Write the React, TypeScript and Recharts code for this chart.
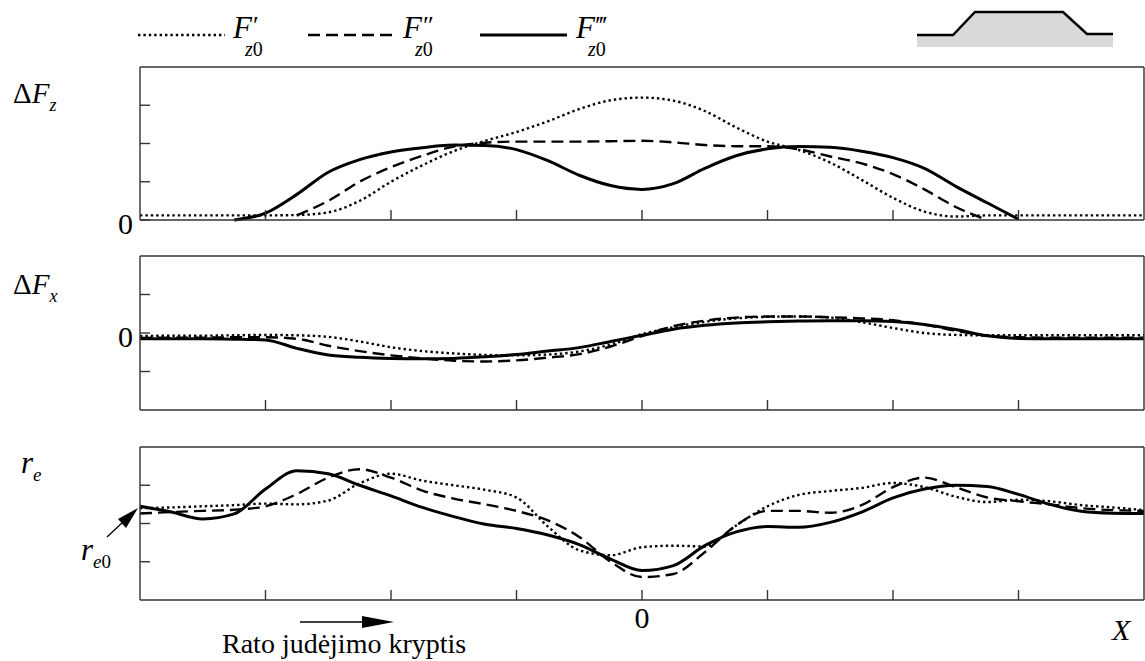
import React from 'react';
import { LineChart, Line, XAxis, YAxis } from 'recharts';

// shared x grid (wheel position), 0 = centre of the bump
const xPos = [-4, -3.75, -3.5, -3.25, -3, -2.75, -2.5, -2.25, -2, -1.75, -1.5, -1.25, -1, -0.75, -0.5, -0.25, 0, 0.25, 0.5, 0.75, 1, 1.25, 1.5, 1.75, 2, 2.25, 2.5, 2.75, 3, 3.25, 3.5, 3.75, 4];
const xTicks = [-3, -2, -1, 0, 1, 2, 3];

// ΔFz
const fzDotted = [0.12, 0.12, 0.12, 0.12, 0.12, 0.13, 0.2, 0.5, 1.0, 1.43, 1.8, 2.07, 2.3, 2.58, 2.9, 3.13, 3.2, 3.12, 2.85, 2.42, 2.05, 1.83, 1.5, 1.05, 0.58, 0.22, 0.09, 0.12, 0.12, 0.12, 0.12, 0.12, 0.12];
const fzDashed = [null, null, null, null, null, 0.12, 0.5, 1.0, 1.38, 1.68, 1.92, 2.02, 2.05, 2.05, 2.05, 2.06, 2.07, 2.03, 1.96, 1.93, 1.93, 1.85, 1.66, 1.48, 1.2, 0.8, 0.34, 0.0, null, null, null, null, null];
const fzSolid = [null, null, null, 0.0, 0.18, 0.67, 1.25, 1.58, 1.78, 1.89, 1.96, 1.95, 1.84, 1.55, 1.17, 0.9, 0.8, 0.95, 1.35, 1.68, 1.86, 1.92, 1.9, 1.8, 1.63, 1.35, 0.88, 0.45, 0.02, null, null, null, null];
const fzTicksLeft = [0, 1, 2, 3];
const fzTicksRight = [1, 2, 3];

// ΔFx
const fxDotted = [-0.08, -0.07, -0.07, -0.06, -0.05, -0.06, -0.1, -0.22, -0.37, -0.47, -0.53, -0.57, -0.58, -0.56, -0.48, -0.3, -0.03, 0.15, 0.29, 0.38, 0.42, 0.43, 0.4, 0.28, 0.13, 0.0, -0.05, -0.06, -0.06, -0.06, -0.06, -0.06, -0.06];
const fxDashed = [-0.13, -0.12, -0.12, -0.11, -0.11, -0.15, -0.33, -0.47, -0.58, -0.66, -0.72, -0.74, -0.71, -0.64, -0.55, -0.35, -0.08, 0.18, 0.32, 0.4, 0.43, 0.43, 0.41, 0.38, 0.33, 0.22, 0.06, -0.07, -0.11, -0.12, -0.12, -0.12, -0.12];
const fxSolid = [-0.15, -0.15, -0.15, -0.16, -0.18, -0.4, -0.57, -0.63, -0.66, -0.67, -0.66, -0.62, -0.56, -0.47, -0.38, -0.22, -0.06, 0.1, 0.2, 0.26, 0.29, 0.31, 0.32, 0.32, 0.3, 0.22, 0.09, -0.07, -0.14, -0.15, -0.15, -0.15, -0.15];
const fxTicks = [-1, 0, 1];

// r_e
const reDotted = [2.4, 2.42, 2.45, 2.48, 2.52, 2.5, 2.6, 3.05, 3.3, 3.12, 3.0, 2.88, 2.68, 1.92, 1.3, 1.17, 1.38, 1.42, 1.4, 1.95, 2.45, 2.75, 2.85, 2.93, 3.06, 2.95, 2.7, 2.56, 2.62, 2.58, 2.48, 2.42, 2.35];
const reDashed = [2.26, 2.3, 2.33, 2.36, 2.45, 2.77, 3.2, 3.42, 3.2, 2.86, 2.65, 2.5, 2.33, 2.08, 1.65, 1.0, 0.6, 0.68, 1.25, 1.95, 2.33, 2.33, 2.28, 2.48, 2.95, 3.2, 2.95, 2.68, 2.58, 2.5, 2.4, 2.35, 2.33];
const reSolid = [2.45, 2.3, 2.12, 2.25, 2.9, 3.38, 3.3, 3.0, 2.72, 2.42, 2.18, 1.98, 1.87, 1.7, 1.45, 1.07, 0.77, 0.9, 1.42, 1.78, 1.92, 1.9, 2.03, 2.3, 2.67, 2.9, 3.0, 2.97, 2.76, 2.5, 2.32, 2.27, 2.26];
const reTicks = [1, 2, 3];

const FONT = "'Liberation Serif', 'Times New Roman', serif";
const W = 1145;
const LEFT = 140;
const FRAME = '#333';
const INK = '#000';

const DOT = { strokeWidth: 2.4, strokeDasharray: '2.4 3' };
const DASH = { strokeWidth: 2.4, strokeDasharray: '12 6' };
const SOLID = { strokeWidth: 3 };

const axisLine = { stroke: FRAME, strokeWidth: 1.4 };
const tickLine = { stroke: FRAME, strokeWidth: 1.4 };

type PanelProps = {
  top: number;
  height: number;
  mTop: number;
  mBottom: number;
  domain: [number, number];
  leftTicks: number[];
  rightTicks: number[];
  dotted: (number | null)[];
  dashed: (number | null)[];
  solid: (number | null)[];
  zeroLabel?: boolean;
  xZeroLabel?: boolean;
};

function Panel(props: PanelProps) {
  const { top, height, mTop, mBottom, domain, leftTicks, rightTicks, dotted, dashed, solid, zeroLabel, xZeroLabel } = props;
  const rows = xPos.map((x, i) => ({ x, dotted: dotted[i], dashed: dashed[i], solid: solid[i] }));
  const plotBottom = height - mBottom;

  const leftTick = (p: any) =>
    zeroLabel && p.payload.value === 0 ? (
      <text x={LEFT - 7} y={p.y} dy="0.45em" textAnchor="end" fontSize={30} fontFamily={FONT} fill={INK}>0</text>
    ) : (
      <g />
    );
  const bottomTick = (p: any) =>
    xZeroLabel && p.payload.value === 0 ? (
      <text x={p.x} y={plotBottom + 28} textAnchor="middle" fontSize={30} fontFamily={FONT} fill={INK}>0</text>
    ) : (
      <g />
    );

  return (
    <div style={{ position: 'absolute', left: 0, top }}>
      <LineChart width={W} height={height} data={rows} margin={{ top: mTop, right: 1, bottom: mBottom, left: LEFT }}>
        <XAxis dataKey="x" type="number" domain={[-4, 4]} ticks={xTicks} interval={0} mirror tickSize={10} axisLine={axisLine} tickLine={tickLine} tick={bottomTick} />
        <XAxis xAxisId="top" orientation="top" dataKey="x" type="number" domain={[-4, 4]} ticks={xTicks} interval={0} mirror tickSize={10} axisLine={axisLine} tickLine={tickLine} tick={false} />
        <YAxis type="number" domain={domain} ticks={leftTicks} interval={0} mirror tickSize={10} axisLine={axisLine} tickLine={tickLine} tick={leftTick} />
        <YAxis yAxisId="right" orientation="right" type="number" domain={domain} ticks={rightTicks} interval={0} mirror tickSize={10} axisLine={axisLine} tickLine={tickLine} tick={false} />
        <Line type="monotone" dataKey="dotted" stroke={INK} {...DOT} dot={false} activeDot={false} isAnimationActive={false} />
        <Line type="monotone" dataKey="dashed" stroke={INK} {...DASH} dot={false} activeDot={false} isAnimationActive={false} />
        <Line type="monotone" dataKey="solid" stroke={INK} {...SOLID} dot={false} activeDot={false} isAnimationActive={false} />
      </LineChart>
    </div>
  );
}

function LegendLabel({ x, primes }: { x: number; primes: string }) {
  return (
    <g fontFamily={FONT} fill={INK}>
      <text x={x} y={38} fontSize={31}>
        <tspan fontStyle="italic">F</tspan>
        <tspan fontSize={26} dx={1} dy={-4}>{primes}</tspan>
      </text>
      <text x={x + 12} y={56} fontSize={20}>
        <tspan fontStyle="italic">z</tspan>
        <tspan>0</tspan>
      </text>
    </g>
  );
}

function Overlay() {
  return (
    <svg width={W} height={661} style={{ position: 'absolute', left: 0, top: 0, pointerEvents: 'none' }}>
      {/* legend */}
      <line x1={138} x2={225} y1={35} y2={35} stroke={INK} {...DOT} />
      <LegendLabel x={233} primes={'\u2032'} />
      <line x1={308} x2={395} y1={35} y2={35} stroke={INK} {...DASH} />
      <LegendLabel x={403} primes={'\u2033'} />
      <line x1={480} x2={567} y1={35} y2={35} stroke={INK} {...SOLID} />
      <LegendLabel x={576} primes={'\u2034'} />

      {/* road profile icon */}
      <polygon points="917,35 953,35 975,12 1063,12 1087,34 1113,34 1113,47 917,47" fill="#d9d9d9" />
      <polyline points="917,35 953,35 975,12 1063,12 1087,34 1113,34" fill="none" stroke={INK} strokeWidth={2.5} />

      {/* axis titles */}
      <g fontFamily={FONT} fill={INK}>
        <text x={13} y={103} fontSize={29}>
          <tspan>Δ</tspan>
          <tspan fontStyle="italic">F</tspan>
          <tspan fontStyle="italic" fontSize={18} dy={8}>z</tspan>
        </text>
        <text x={13} y={294} fontSize={29}>
          <tspan>Δ</tspan>
          <tspan fontStyle="italic">F</tspan>
          <tspan fontStyle="italic" fontSize={18} dy={8}>x</tspan>
        </text>
        <text x={21} y={473} fontSize={31}>
          <tspan fontStyle="italic">r</tspan>
          <tspan fontStyle="italic" fontSize={19} dy={8}>e</tspan>
        </text>
        <text x={81} y={560} fontSize={31}>
          <tspan fontStyle="italic">r</tspan>
          <tspan fontStyle="italic" fontSize={19} dy={8}>e</tspan>
          <tspan fontSize={19}>0</tspan>
        </text>
        <text x={1112} y={640} fontSize={30} fontStyle="italic">X</text>
        <text x={222} y={653} fontSize={28}>Rato judėjimo kryptis</text>
      </g>

      {/* r_e0 pointer */}
      <line x1={107} y1={537} x2={123} y2={522} stroke={INK} strokeWidth={1.3} />
      <polygon points="138,508 118,519 126,528" fill={INK} />

      {/* direction of travel arrow */}
      <line x1={300} x2={366} y1={622} y2={622} stroke={INK} strokeWidth={1.6} />
      <polygon points="394,622 362,616 362,628" fill={INK} />
    </svg>
  );
}

export default function App() {
  return (
    <div style={{ position: 'absolute', left: 0, top: 0, width: W, height: 661, background: '#fff' }}>
      <Panel top={0} height={245} mTop={67} mBottom={25} domain={[0, 4]} leftTicks={fzTicksLeft} rightTicks={fzTicksRight} dotted={fzDotted} dashed={fzDashed} solid={fzSolid} zeroLabel />
      <Panel top={240} height={180} mTop={16} mBottom={10} domain={[-2, 2]} leftTicks={fxTicks} rightTicks={fxTicks} dotted={fxDotted} dashed={fxDashed} solid={fxSolid} zeroLabel />
      <Panel top={430} height={231} mTop={17} mBottom={61} domain={[0, 4]} leftTicks={reTicks} rightTicks={reTicks} dotted={reDotted} dashed={reDashed} solid={reSolid} xZeroLabel />
      <Overlay />
    </div>
  );
}
